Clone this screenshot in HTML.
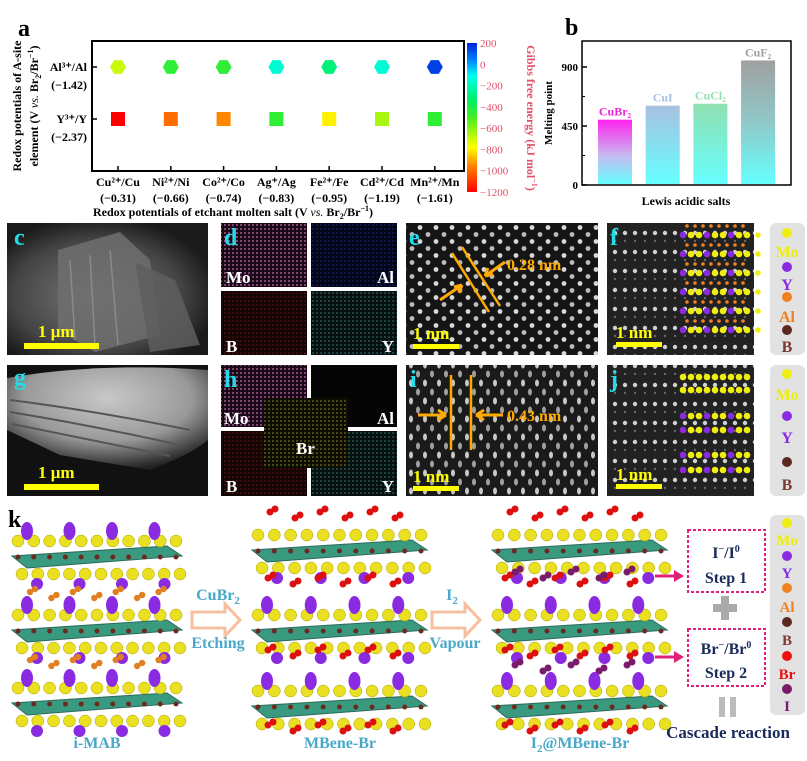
<!DOCTYPE html>
<html><head><meta charset="utf-8"><style>
html,body{margin:0;padding:0;background:#fff}
svg{display:block;font-family:"Liberation Serif",serif}
</style></head><body>
<svg id="fig" width="807" height="761" viewBox="0 0 807 761" xmlns="http://www.w3.org/2000/svg">
<defs>
 <linearGradient id="cbar" x1="0" y1="1" x2="0" y2="0">
  <stop offset="0" stop-color="#ff0000"/><stop offset="0.18" stop-color="#ff8800"/><stop offset="0.3" stop-color="#ffff00"/>
  <stop offset="0.5" stop-color="#44ee22"/><stop offset="0.62" stop-color="#00ee66"/><stop offset="0.78" stop-color="#00ffee"/><stop offset="0.88" stop-color="#0088ff"/><stop offset="1" stop-color="#0022dd"/>
 </linearGradient>
 <linearGradient id="gBr" x1="0" y1="0" x2="0" y2="1"><stop offset="0" stop-color="#ff22ee"/><stop offset="0.55" stop-color="#c8b8f0"/><stop offset="1" stop-color="#66ffff"/></linearGradient>
 <linearGradient id="gI" x1="0" y1="0" x2="0" y2="1"><stop offset="0" stop-color="#a8c0e0"/><stop offset="1" stop-color="#66ffff"/></linearGradient>
 <linearGradient id="gCl" x1="0" y1="0" x2="0" y2="1"><stop offset="0" stop-color="#90e0b0"/><stop offset="1" stop-color="#66ffff"/></linearGradient>
 <linearGradient id="gF" x1="0" y1="0" x2="0" y2="1"><stop offset="0" stop-color="#a0a0a0"/><stop offset="0.5" stop-color="#90c8c8"/><stop offset="1" stop-color="#66ffff"/></linearGradient>
 <pattern id="hex" width="16" height="14" patternUnits="userSpaceOnUse"><rect width="16" height="14" fill="#151515"/><circle cx="4" cy="3.5" r="2.4" fill="#d8d8d8"/><circle cx="12" cy="10.5" r="2.4" fill="#bcbcbc"/></pattern>
 <pattern id="diag" width="14" height="18" patternUnits="userSpaceOnUse"><rect width="14" height="18" fill="#1a1a1a"/><ellipse cx="5" cy="5" rx="2" ry="3.5" fill="#c8c8c8"/><ellipse cx="12" cy="14" rx="2" ry="3.5" fill="#a0a0a0"/></pattern>
 <pattern id="rows" width="10" height="19" patternUnits="userSpaceOnUse"><rect width="10" height="19" fill="#222"/><circle cx="5" cy="5" r="2.2" fill="#d0d0d0"/><circle cx="5" cy="13" r="1.2" fill="#666"/></pattern>
 <pattern id="dotM" width="4" height="4" patternUnits="userSpaceOnUse"><rect width="4" height="4" fill="#1a0818"/><circle cx="1" cy="1" r="0.9" fill="#c070b0"/></pattern>
 <pattern id="dotA" width="4" height="4" patternUnits="userSpaceOnUse"><rect width="4" height="4" fill="#05051a"/><circle cx="1" cy="1" r="0.8" fill="#1a2a7a"/></pattern>
 <pattern id="dotB" width="4" height="4" patternUnits="userSpaceOnUse"><rect width="4" height="4" fill="#140505"/><circle cx="1" cy="1" r="0.8" fill="#6a1010"/></pattern>
 <pattern id="dotY" width="4" height="4" patternUnits="userSpaceOnUse"><rect width="4" height="4" fill="#06100f"/><circle cx="1" cy="1" r="0.8" fill="#3a8080"/></pattern>
 <pattern id="dotBr" width="4" height="4" patternUnits="userSpaceOnUse"><rect width="4" height="4" fill="#0d0d02"/><circle cx="1" cy="1" r="0.8" fill="#909020"/></pattern>
 <radialGradient id="semc" cx="0.45" cy="0.55" r="0.6"><stop offset="0" stop-color="#7a7a7a"/><stop offset="0.7" stop-color="#444"/><stop offset="1" stop-color="#1a1a1a"/></radialGradient>
 <radialGradient id="semg" cx="0.5" cy="0.3" r="0.7"><stop offset="0" stop-color="#c8c8c8"/><stop offset="0.6" stop-color="#999"/><stop offset="1" stop-color="#222"/></radialGradient>
</defs>

<g id="panelA">
 <text x="18" y="36" font-size="24" font-weight="bold">a</text>
 <rect x="92" y="41" width="372" height="130" fill="none" stroke="#000" stroke-width="2"/>
 <text transform="translate(21,106) rotate(-90)" text-anchor="middle" font-size="12" font-weight="bold">Redox potentials of A-site</text>
 <text transform="translate(38,106) rotate(-90)" text-anchor="middle" font-size="12" font-weight="bold">element (V <tspan font-style="italic" font-weight="normal">vs.</tspan> Br<tspan font-size="8" dy="3">2</tspan><tspan dy="-3">/Br</tspan><tspan font-size="8" dy="-5">−1</tspan><tspan dy="5">)</tspan></text>
 <text x="233" y="216" text-anchor="middle" font-size="12" font-weight="bold">Redox potentials of etchant molten salt (V <tspan font-style="italic" font-weight="normal">vs.</tspan> Br<tspan font-size="8" dy="3">2</tspan><tspan dy="-3">/Br</tspan><tspan font-size="8" dy="-5">−1</tspan><tspan dy="5">)</tspan></text>
 <rect x="467" y="43" width="10" height="149" fill="url(#cbar)"/>
 <text transform="translate(527,118) rotate(90)" text-anchor="middle" font-size="12" font-weight="bold" fill="#e0506a">Gibbs free energy (kJ mol<tspan font-size="8" dy="-5">−1</tspan><tspan dy="5">)</tspan></text>
</g>

<g id="panelB">
 <text x="565" y="35" font-size="24" font-weight="bold">b</text>
 <rect x="582" y="41" width="209" height="144" fill="none" stroke="#000" stroke-width="1.5"/>
 <text transform="translate(552,113) rotate(-90)" text-anchor="middle" font-size="11" font-weight="bold">Melting point</text>
 <text x="686" y="205" text-anchor="middle" font-size="12" font-weight="bold">Lewis acidic salts</text>
</g>

<g>
 <rect x="7" y="223" width="201" height="132" fill="url(#semc)"/>
 <path d="M58 250 L120 232 L150 260 L160 335 L95 352 L58 330 Z" fill="#6e6e6e" opacity="0.85"/>
 <path d="M135 262 L175 280 L200 345 L150 352 Z" fill="#5e5e5e" opacity="0.85"/>
 <path d="M70 260 L75 340 M90 255 L95 345 M110 250 L118 345" stroke="#8a8a8a" stroke-width="1.5"/>
 <text x="14" y="245" font-size="24" font-weight="bold" fill="#22dde8">c</text>
 <text x="38" y="337" font-size="17" font-weight="bold" fill="#ffff00">1 μm</text>
 <rect x="24" y="343" width="75" height="6" fill="#ffff00"/>
</g>
<g>
 <rect x="221" y="223" width="86" height="64" fill="url(#dotM)"/>
 <rect x="311" y="223" width="86" height="64" fill="url(#dotA)"/>
 <rect x="221" y="291" width="86" height="64" fill="url(#dotB)"/>
 <rect x="311" y="291" width="86" height="64" fill="url(#dotY)"/>
 <text x="224" y="245" font-size="24" font-weight="bold" fill="#22dde8">d</text>
 <text x="226" y="283" font-size="17" font-weight="bold" fill="#fff">Mo</text>
 <text x="394" y="283" font-size="17" font-weight="bold" fill="#fff" text-anchor="end">Al</text>
 <text x="226" y="352" font-size="17" font-weight="bold" fill="#fff">B</text>
 <text x="394" y="352" font-size="17" font-weight="bold" fill="#fff" text-anchor="end">Y</text>
</g>
<g>
 <rect x="406" y="223" width="192" height="132" fill="url(#hex)"/>
 <line x1="452" y1="253" x2="489" y2="312" stroke="#ffaa00" stroke-width="2.5"/>
 <line x1="462" y1="247" x2="500" y2="306" stroke="#ffaa00" stroke-width="2.5"/>
 <path d="M505 262 L485 276 M485 276 l3 -8 M485 276 l8 -2" stroke="#ffaa00" stroke-width="3" fill="none"/>
 <path d="M440 300 L462 285 M462 285 l-8 2 M462 285 l-3 8" stroke="#ffaa00" stroke-width="3" fill="none"/>
 <text x="507" y="270" font-size="16" font-weight="bold" fill="#ffaa00">0.28 nm</text>
 <text x="409" y="245" font-size="24" font-weight="bold" fill="#22dde8">e</text>
 <text x="413" y="339" font-size="17" font-weight="bold" fill="#ffff00">1 nm</text>
 <rect x="413" y="344" width="46" height="5" fill="#ffff00"/>
</g>
<g id="panelF">
 <rect x="607" y="223" width="147" height="132" fill="url(#rows)"/>
 <text x="610" y="245" font-size="24" font-weight="bold" fill="#22dde8">f</text>
 <text x="616" y="338" font-size="17" font-weight="bold" fill="#ffff00">1 nm</text>
 <rect x="616" y="342" width="46" height="5" fill="#ffff00"/>
</g>
<g>
 <rect x="770" y="223" width="35" height="132" rx="6" fill="#e2e2e2"/>
 <circle cx="787" cy="233" r="5" fill="#eeee10"/><text x="787" y="257" font-size="16" font-weight="bold" fill="#eeee00" text-anchor="middle">Mo</text>
 <circle cx="787" cy="267" r="5" fill="#8a2be2"/><text x="787" y="290" font-size="16" font-weight="bold" fill="#8a2be2" text-anchor="middle">Y</text>
 <circle cx="787" cy="297" r="5" fill="#f08020"/><text x="787" y="322" font-size="16" font-weight="bold" fill="#f08020" text-anchor="middle">Al</text>
 <circle cx="787" cy="330" r="5" fill="#5a2a20"/><text x="787" y="352" font-size="16" font-weight="bold" fill="#7a3a30" text-anchor="middle">B</text>
</g>

<g>
 <rect x="7" y="365" width="201" height="131" fill="#111"/>
 <path d="M7 378 Q100 362 208 370 L208 440 Q190 455 150 470 L60 455 L7 430 Z" fill="url(#semg)"/>
 <path d="M10 400 Q90 410 190 430 M10 412 Q90 425 180 445 M12 424 Q90 440 170 456" stroke="#555" stroke-width="2" fill="none"/>
 <text x="14" y="385" font-size="24" font-weight="bold" fill="#22dde8">g</text>
 <text x="38" y="478" font-size="17" font-weight="bold" fill="#ffff00">1 μm</text>
 <rect x="24" y="484" width="75" height="6" fill="#ffff00"/>
</g>
<g>
 <rect x="221" y="365" width="86" height="62" fill="url(#dotM)"/>
 <rect x="311" y="365" width="86" height="62" fill="#050505"/>
 <rect x="221" y="431" width="86" height="65" fill="url(#dotB)"/>
 <rect x="311" y="431" width="86" height="65" fill="url(#dotY)"/>
 <rect x="264" y="398" width="84" height="70" fill="url(#dotBr)"/>
 <text x="224" y="387" font-size="24" font-weight="bold" fill="#22dde8">h</text>
 <text x="224" y="424" font-size="17" font-weight="bold" fill="#fff">Mo</text>
 <text x="394" y="424" font-size="17" font-weight="bold" fill="#fff" text-anchor="end">Al</text>
 <text x="296" y="454" font-size="17" font-weight="bold" fill="#fff">Br</text>
 <text x="226" y="492" font-size="17" font-weight="bold" fill="#fff">B</text>
 <text x="394" y="492" font-size="17" font-weight="bold" fill="#fff" text-anchor="end">Y</text>
</g>
<g>
 <rect x="406" y="365" width="192" height="131" fill="url(#diag)"/>
 <line x1="451" y1="375" x2="451" y2="450" stroke="#ffaa00" stroke-width="2.5"/>
 <line x1="471" y1="375" x2="471" y2="450" stroke="#ffaa00" stroke-width="2.5"/>
 <path d="M418 415 L446 415 M446 415 l-8 -5 M446 415 l-8 5" stroke="#ffaa00" stroke-width="3" fill="none"/>
 <path d="M503 415 L476 415 M476 415 l8 -5 M476 415 l8 5" stroke="#ffaa00" stroke-width="3" fill="none"/>
 <text x="507" y="421" font-size="16" font-weight="bold" fill="#ffaa00">0.43 nm</text>
 <text x="410" y="387" font-size="24" font-weight="bold" fill="#22dde8">i</text>
 <text x="413" y="482" font-size="17" font-weight="bold" fill="#ffff00">1 nm</text>
 <rect x="413" y="486" width="46" height="5" fill="#ffff00"/>
</g>
<g id="panelJ">
 <rect x="607" y="365" width="147" height="131" fill="url(#rows)"/>
 <text x="610" y="387" font-size="24" font-weight="bold" fill="#22dde8">j</text>
 <text x="616" y="480" font-size="17" font-weight="bold" fill="#ffff00">1 nm</text>
 <rect x="616" y="484" width="46" height="5" fill="#ffff00"/>
</g>
<g>
 <rect x="770" y="365" width="35" height="131" rx="6" fill="#e2e2e2"/>
 <circle cx="787" cy="374" r="5" fill="#eeee10"/><text x="787" y="400" font-size="16" font-weight="bold" fill="#eeee00" text-anchor="middle">Mo</text>
 <circle cx="787" cy="416" r="5" fill="#8a2be2"/><text x="787" y="443" font-size="16" font-weight="bold" fill="#8a2be2" text-anchor="middle">Y</text>
 <circle cx="787" cy="462" r="5" fill="#5a2a20"/><text x="787" y="490" font-size="16" font-weight="bold" fill="#7a3a30" text-anchor="middle">B</text>
</g>

<g id="panelK">
 <text x="8" y="527" font-size="24" font-weight="bold">k</text>
 <text x="218" y="600" font-size="16" font-weight="bold" fill="#4aa8c8" text-anchor="middle">CuBr<tspan font-size="11" dy="4">2</tspan></text>
 <path d="M192 612 L225 612 L225 604 L240 620 L225 636 L225 628 L192 628 Z" fill="none" stroke="#f5c0a0" stroke-width="3"/>
 <text x="218" y="648" font-size="16" font-weight="bold" fill="#4aa8c8" text-anchor="middle">Etching</text>
 <text x="452" y="600" font-size="16" font-weight="bold" fill="#4aa8c8" text-anchor="middle">I<tspan font-size="11" dy="4">2</tspan></text>
 <path d="M432 612 L465 612 L465 604 L480 620 L465 636 L465 628 L432 628 Z" fill="none" stroke="#f5c0a0" stroke-width="3"/>
 <text x="455" y="648" font-size="16" font-weight="bold" fill="#4aa8c8" text-anchor="middle">Vapour</text>
 <text x="97" y="748" font-size="16" font-weight="bold" fill="#4aa8c8" text-anchor="middle">i-MAB</text>
 <text x="340" y="748" font-size="16" font-weight="bold" fill="#4aa8c8" text-anchor="middle">MBene-Br</text>
 <text x="580" y="748" font-size="16" font-weight="bold" fill="#4aa8c8" text-anchor="middle">I<tspan font-size="11" dy="4">2</tspan><tspan dy="-4">@MBene-Br</tspan></text>
 <rect x="688" y="530" width="77" height="62" fill="none" stroke="#e0207a" stroke-width="2" stroke-dasharray="3,2"/>
 <text x="726" y="558" font-size="16" font-weight="bold" fill="#1a2a5a" text-anchor="middle">I<tspan font-size="10" dy="-6">−</tspan><tspan dy="6">/I</tspan><tspan font-size="10" dy="-6">0</tspan></text>
 <text x="726" y="583" font-size="16" font-weight="bold" fill="#1a2a5a" text-anchor="middle">Step 1</text>
 <rect x="688" y="629" width="77" height="57" fill="none" stroke="#e0207a" stroke-width="2" stroke-dasharray="3,2"/>
 <text x="726" y="654" font-size="16" font-weight="bold" fill="#1a2a5a" text-anchor="middle">Br<tspan font-size="10" dy="-6">−</tspan><tspan dy="6">/Br</tspan><tspan font-size="10" dy="-6">0</tspan></text>
 <text x="726" y="678" font-size="16" font-weight="bold" fill="#1a2a5a" text-anchor="middle">Step 2</text>
 <path d="M655 576 L676 576" stroke="#e0207a" stroke-width="3"/><path d="M674 570 L684 576 L674 582 Z" fill="#e0207a"/>
 <path d="M655 657 L676 657" stroke="#e0207a" stroke-width="3"/><path d="M674 651 L684 657 L674 663 Z" fill="#e0207a"/>
 <path d="M721 596 h8 v8 h8 v8 h-8 v8 h-8 v-8 h-8 v-8 h8 Z" fill="#aaa"/>
 <rect x="719" y="697" width="6" height="20" fill="#bbb"/><rect x="730" y="697" width="6" height="20" fill="#bbb"/>
 <text x="728" y="738" font-size="17" font-weight="bold" fill="#1a2a5a" text-anchor="middle">Cascade reaction</text>
 <rect x="770" y="515" width="35" height="200" rx="6" fill="#e2e2e2"/>
 <circle cx="787" cy="523" r="5" fill="#eeee10"/><text x="787" y="545" font-size="15" font-weight="bold" fill="#eeee00" text-anchor="middle">Mo</text>
 <circle cx="787" cy="556" r="5" fill="#8a2be2"/><text x="787" y="578" font-size="15" font-weight="bold" fill="#8a2be2" text-anchor="middle">Y</text>
 <circle cx="787" cy="588" r="5" fill="#f08020"/><text x="787" y="612" font-size="15" font-weight="bold" fill="#f08020" text-anchor="middle">Al</text>
 <circle cx="787" cy="622" r="5" fill="#5a2a20"/><text x="787" y="645" font-size="15" font-weight="bold" fill="#7a3a30" text-anchor="middle">B</text>
 <circle cx="787" cy="656" r="5" fill="#ee1010"/><text x="787" y="679" font-size="15" font-weight="bold" fill="#ee1010" text-anchor="middle">Br</text>
 <circle cx="787" cy="689" r="5" fill="#7a1a6a"/><text x="787" y="711" font-size="15" font-weight="bold" fill="#7a1a6a" text-anchor="middle">I</text>
</g>
</svg>
<script>
// ---- Panel a data ----
const saltLabels = ["Cu²⁺/Cu","Ni²⁺/Ni","Co²⁺/Co","Ag⁺/Ag","Fe²⁺/Fe","Cd²⁺/Cd","Mn²⁺/Mn"];
const saltPotentials = ["(−0.31)","(−0.66)","(−0.74)","(−0.83)","(−0.95)","(−1.19)","(−1.61)"];
const siteLabels = ["Al³⁺/Al","Y³⁺/Y"];
const sitePotentials = ["(−1.42)","(−2.37)"];
const gibbsAl = [-700,-450,-450,-150,-300,-150,150];
const gibbsY = [-1200,-1000,-950,-450,-800,-650,-450];
const cbarTicks = [200,0,-200,-400,-600,-800,-1000,-1200];
// ---- Panel b data ----
const saltsB = ["CuBr₂","CuI","CuCl₂","CuF₂"];
const meltingPoints = [498,605,620,950];
const bTicks = [0,450,900];

const NS="http://www.w3.org/2000/svg";
function mk(tag,attrs,parent){const e=document.createElementNS(NS,tag);for(const k in attrs)e.setAttribute(k,attrs[k]);parent.appendChild(e);return e;}
function jet(v){const t=(v+1200)/1400;const stops=[[0,[255,0,0]],[0.18,[255,136,0]],[0.3,[255,255,0]],[0.5,[68,238,34]],[0.62,[0,238,102]],[0.78,[0,255,238]],[0.88,[0,136,255]],[1,[0,34,221]]];
 for(let i=1;i<stops.length;i++){if(t<=stops[i][0]){const a=stops[i-1],b=stops[i];const f=(t-a[0])/(b[0]-a[0]);return "rgb("+a[1].map((c,j)=>Math.round(c+(b[1][j]-c)*f)).join(",")+")";}}return "rgb(0,34,221)";}
const A=document.getElementById('panelA');
const xA=i=>118+i*52.8;
const yA=j=>67+j*52;
const cbY=v=>43+(200-v)/1400*149;
saltLabels.forEach((s,i)=>{
 mk('line',{x1:xA(i),y1:171,x2:xA(i),y2:166,stroke:'#000','stroke-width':1.5},A);
 const t=mk('text',{x:xA(i),y:186,'font-size':12,'font-weight':'bold','text-anchor':'middle'},A);t.textContent=s;
 
 
 const t2=mk('text',{x:xA(i),y:202,'font-size':12,'font-weight':'bold','text-anchor':'middle'},A);t2.textContent=saltPotentials[i];
 
 
});
siteLabels.forEach((s,j)=>{
 mk('line',{x1:92,y1:yA(j),x2:97,y2:yA(j),stroke:'#000','stroke-width':1.5},A);
 const t=mk('text',{x:87,y:yA(j)+4,'font-size':12,'font-weight':'bold','text-anchor':'end'},A);t.textContent=s;
 
 
 const t2=mk('text',{x:87,y:yA(j)+22,'font-size':12,'font-weight':'bold','text-anchor':'end'},A);t2.textContent=sitePotentials[j];
 
 
});
gibbsAl.forEach((v,i)=>{const cx=xA(i),cy=yA(0),r=8;
 const pts=[0,1,2,3,4,5].map(k=>{const a=Math.PI/3*k;return (cx+r*Math.cos(a))+","+(cy+r*Math.sin(a));}).join(" ");
 const p=mk('polygon',{points:pts,fill:jet(v)},A);
 
 });
gibbsY.forEach((v,i)=>{const r=mk('rect',{x:xA(i)-7,y:yA(1)-7,width:14,height:14,fill:jet(v)},A);
 
 });
cbarTicks.forEach(v=>{const t=mk('text',{x:480,y:cbY(v)+4,'font-size':11,fill:'#e0506a'},A);t.textContent=v<0?"−"+(-v):String(v);
 
 });

const B=document.getElementById('panelB');
const yB=v=>185-v/900*118;
const grads=["url(#gBr)","url(#gI)","url(#gCl)","url(#gF)"];
const labCol=["#ee22dd","#a8c0e0","#90e0b0","#a0a0a0"];
bTicks.forEach(v=>{mk('line',{x1:582,y1:yB(v),x2:587,y2:yB(v),stroke:'#000','stroke-width':1.5},B);
 const t=mk('text',{x:578,y:yB(v)+4,'font-size':11,'font-weight':'bold','text-anchor':'end'},B);t.textContent=v;
 
 });
[225,675].forEach(v=>mk('line',{x1:582,y1:yB(v),x2:585,y2:yB(v),stroke:'#000','stroke-width':1},B));
saltsB.forEach((s,i)=>{const x=598+i*47.7;
 const r=mk('rect',{x:x,y:yB(meltingPoints[i]),width:34,height:185-yB(meltingPoints[i])-1,fill:grads[i]},B);
 
 
 const t=mk('text',{x:x+17,y:yB(meltingPoints[i])-4,'font-size':12,'font-weight':'bold','text-anchor':'middle',fill:labCol[i]},B);t.textContent=s;
 
 });

function overlay(g,y0,rows,withAl){
 for(let r=0;r<rows;r++){const y=y0+r*19;
  for(let k=0;k<9;k++){const x=683+k*8;const c=(k%3==0)?'#8a2be2':'#eeee10';mk('circle',{cx:x,cy:y,r:3.3,fill:c},g);}
  mk('circle',{cx:758,cy:y,r:2.8,fill:'#eeee10'},g);
  if(withAl){for(let k=0;k<8;k++)mk('circle',{cx:687+k*8,cy:y-9,r:1.8,fill:'#f08020'},g);}
 }}
overlay(document.getElementById('panelF'),235,6,true);
const J=document.getElementById('panelJ');
[377,390,416,430,455,470].forEach((y,r)=>{for(let k=0;k<9;k++)mk('circle',{cx:683+k*8,cy:y,r:3.3,fill:(r>1&&k%3==0)?'#8a2be2':'#eeee10'},J);});

const K=document.getElementById('panelK');
function slab(x0,y0,w,purpleTop,purpleBot){
 mk('polygon',{points:`${x0},${y0+18} ${x0+w-15},${y0+8} ${x0+w},${y0+18} ${x0+15},${y0+30}`,fill:'#3a9a80',stroke:'#2a6a5a'},K);
 for(let k=0;k<11;k++){const x=x0+6+k*(w-12)/10;
  mk('circle',{cx:x,cy:y0+3,r:6,fill:'#e8e020',stroke:'#b0a000','stroke-width':0.5},K);
  mk('circle',{cx:x,cy:y0+19,r:2.5,fill:'#6a2a20'},K);
  mk('circle',{cx:x+4,cy:y0+36,r:6,fill:'#e8e020',stroke:'#b0a000','stroke-width':0.5},K);}
 for(let k=0;k<4;k++){
  if(purpleTop)mk('ellipse',{cx:x0+15+k*w/4,cy:y0-7,rx:6,ry:9,fill:'#8a2be2'},K);
  if(purpleBot)mk('circle',{cx:x0+25+k*w/4,cy:y0+46,r:6,fill:'#8a2be2'},K);}
}
function dots(x0,y0,w,color,n,r){for(let k=0;k<n;k++){mk('circle',{cx:x0+k*w/n,cy:y0+(k%2)*6,r:r,fill:color},K);mk('circle',{cx:x0+k*w/n+5,cy:y0+(k%2)*6-3,r:r,fill:color},K);}}
slab(12,538,170,true,true); dots(30,592,150,'#e08020',7,3.2);
slab(12,612,170,true,true); dots(30,660,150,'#e08020',7,3.2);
slab(12,685,170,true,true);
dots(270,512,150,'#dd1010',6,3.5);
slab(252,532,175,false,true); dots(268,578,150,'#dd1010',6,3.5);
slab(252,612,175,true,true); dots(268,650,150,'#dd1010',6,3.5);
slab(252,688,175,true,false); dots(268,725,150,'#dd1010',6,3.5);
dots(510,512,150,'#dd1010',6,3.5);
slab(492,532,175,false,true); dots(505,578,150,'#dd1010',6,3.5); dots(515,572,140,'#7a1a6a',5,3.5);
slab(492,612,175,true,true); dots(505,650,150,'#dd1010',6,3.5); dots(515,665,140,'#7a1a6a',5,3.5);
slab(492,688,175,true,false); dots(505,725,150,'#dd1010',6,3.5);
</script>
</body></html>
